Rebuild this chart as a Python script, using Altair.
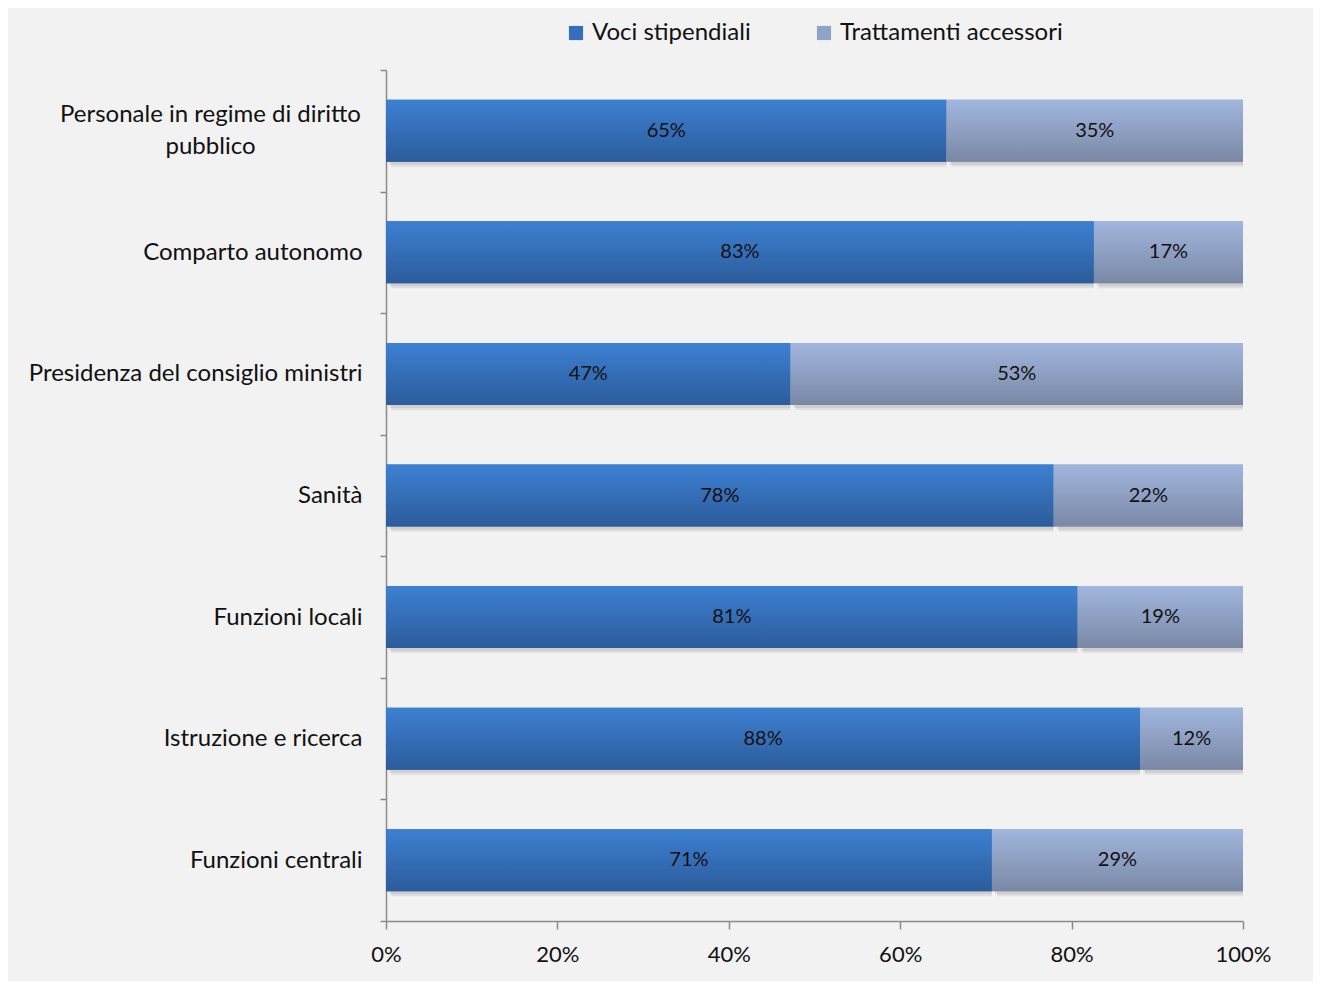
import altair as alt
import pandas as pd

categories = [
    "Personale in regime di diritto pubblico",
    "Comparto autonomo",
    "Presidenza del consiglio ministri",
    "Sanità",
    "Funzioni locali",
    "Istruzione e ricerca",
    "Funzioni centrali",
]
voci = [65.4, 82.6, 47.2, 77.9, 80.7, 88.0, 70.7]
accessori = [34.6, 17.4, 52.8, 22.1, 19.3, 12.0, 29.3]
series = ["Voci stipendiali", "Trattamenti accessori"]
x_ticks = [0, 20, 40, 60, 80, 100]

rows = []
for c, a, b in zip(categories, voci, accessori):
    rows.append({"cat": c, "series": series[0], "order": 0, "value": a})
    rows.append({"cat": c, "series": series[1], "order": 1, "value": b})
df = pd.DataFrame(rows)

FONT = "Lato"
grad_dark = {"gradient": "linear", "x1": 0, "y1": 0, "x2": 0, "y2": 1,
             "stops": [{"offset": 0, "color": "#3d80d2"}, {"offset": 1, "color": "#2c5c9b"}]}
grad_light = {"gradient": "linear", "x1": 0, "y1": 0, "x2": 0, "y2": 1,
              "stops": [{"offset": 0, "color": "#a1b6de"}, {"offset": 1, "color": "#7a88a5"}]}

first = categories[0]
is_first = f"datum.value == '{first}'"
y_enc = alt.Y(
    "cat:N", sort=categories, title=None,
    scale=alt.Scale(paddingInner=0, paddingOuter=0),
    axis=alt.Axis(
        tickBand="extent", tickSize=6, tickColor="#8a8a8a", domainColor="#8a8a8a",
        domainWidth=1.5, tickWidth=1.5,
        labelFont=FONT, labelFontSize=24, labelColor="#111111",
        labelLimit=600, labelLineHeight=32,
        labelExpr=f"{is_first} ? ['Personale in regime di diritto', 'pubblico'] : datum.value",
        labelAlign={"condition": {"test": is_first, "value": "center"}, "value": "right"},
        labelPadding={"condition": {"test": is_first, "value": 170}, "value": 18},
        labelOffset={"condition": {"test": is_first, "value": -16}, "value": 0},
    ),
)

base = alt.Chart(df).transform_stack(
    stack="value", groupby=["cat"], as_=["v0", "v1"], sort=[alt.SortField("order")]
).transform_calculate(mid="(datum.v0 + datum.v1) / 2", lab="format(datum.value / 100, '.0%')")

x_enc = alt.X(
    "v0:Q", title=None,
    scale=alt.Scale(domain=[0, 100], nice=False),
    axis=alt.Axis(
        values=x_ticks, labelExpr="datum.value + '%'", grid=False, labelFlush=False,
        tickSize=8, tickColor="#8a8a8a", domainColor="#8a8a8a", domainWidth=1.5, tickWidth=1.5,
        labelFont=FONT, labelFontSize=22, labelColor="#111111", labelPadding=15,
    ),
)

BAR = alt.RelativeBandSize(0.51)

shadow1 = base.mark_bar(color="#000000", opacity=0.07, xOffset=5, yOffset=5, height=BAR).encode(
    x=x_enc, x2="v1:Q", y=y_enc
)
shadow2 = base.mark_bar(color="#000000", opacity=0.08, xOffset=3, yOffset=3, height=BAR).encode(
    x=x_enc, x2="v1:Q", y=y_enc
)

legend_layer = base.mark_bar(height=BAR).encode(
    x=x_enc, x2="v1:Q", y=y_enc,
    color=alt.Color(
        "series:N", sort=series,
        scale=alt.Scale(domain=series, range=["#3470ba", "#8fa2c8"]),
        legend=alt.Legend(
            title=None, orient="none", legendX=178, legendY=-49, direction="horizontal",
            symbolType="square", symbolSize=200, symbolStrokeWidth=0,
            labelFont=FONT, labelFontSize=24, labelColor="#111111",
            columnPadding=61, labelOffset=4, labelLimit=400,
        ),
    ),
)

grad_layer = base.mark_bar(height=BAR).encode(
    x=x_enc, x2="v1:Q", y=y_enc,
    fill=alt.condition(alt.datum.order == 0, alt.value(grad_dark), alt.value(grad_light)),
)

text_layer = base.mark_text(font=FONT, fontSize=20, color="#111111", baseline="middle").encode(
    x=alt.X("mid:Q"), y=alt.Y("cat:N", sort=categories), text="lab:N"
)

chart = alt.layer(shadow1, shadow2, legend_layer, grad_layer, text_layer).properties(
    width=857, height=851,
    background="#f2f2f2",
    autosize=alt.AutoSizeParams(type="none"),
    padding={"left": 378, "top": 62, "right": 70, "bottom": 60},
).configure_view(stroke=None)

chart.save("out.html", embed_options={"renderer": "svg", "actions": False})
